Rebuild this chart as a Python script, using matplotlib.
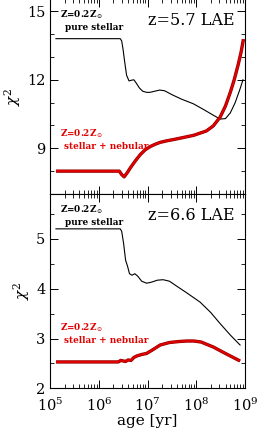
import matplotlib
matplotlib.use("Agg")
import matplotlib.pyplot as plt
import numpy as np
from matplotlib.ticker import LogLocator, MultipleLocator, NullFormatter

plt.rcParams["font.family"] = ["DejaVu Serif"]
plt.rcParams["mathtext.fontset"] = "dejavuserif"

# log10(age / yr) and chi^2
# z=5.7 LAE, pure stellar
logage_57_stellar = [5.12, 6.0, 6.44, 6.47, 6.50, 6.53, 6.57, 6.62, 6.67, 6.72, 6.77, 6.83,
                     6.90, 6.98, 7.05, 7.15, 7.25, 7.35, 7.50, 7.70, 7.94, 8.15, 8.35,
                     8.49, 8.60, 8.70, 8.80, 8.90, 8.96]
chi2_57_stellar = [13.8, 13.8, 13.8, 13.7, 13.3, 12.8, 12.2, 11.95, 11.98, 12.0, 11.85, 11.65,
                   11.5, 11.45, 11.45, 11.5, 11.55, 11.52, 11.35, 11.15, 10.95, 10.7, 10.45,
                   10.28, 10.3, 10.55, 11.0, 11.6, 12.0]
# z=5.7 LAE, stellar + nebular
logage_57_neb = [5.12, 6.0, 6.42, 6.47, 6.52, 6.58, 6.65, 6.75, 6.85, 6.95, 7.05, 7.15,
                 7.26, 7.40, 7.55, 7.73, 7.95, 8.21, 8.35, 8.49, 8.60, 8.70, 8.78,
                 8.86, 8.92, 8.97]
chi2_57_neb = [8.0, 8.0, 8.0, 7.85, 7.75, 7.92, 8.15, 8.45, 8.72, 8.93, 9.07, 9.17,
               9.26, 9.33, 9.39, 9.47, 9.57, 9.76, 9.98, 10.36, 10.85, 11.45, 12.0,
               12.65, 13.2, 13.78]
# z=6.6 LAE, pure stellar
logage_66_stellar = [5.12, 6.0, 6.44, 6.47, 6.51, 6.55, 6.59, 6.63, 6.68, 6.74, 6.80, 6.88,
                     6.98, 7.08, 7.20, 7.32, 7.45, 7.60, 7.80, 8.08, 8.30, 8.49, 8.70,
                     8.90]
chi2_66_stellar = [5.2, 5.2, 5.2, 5.15, 4.9, 4.57, 4.45, 4.3, 4.27, 4.3, 4.25, 4.15,
                   4.11, 4.13, 4.17, 4.18, 4.15, 4.05, 3.92, 3.73, 3.52, 3.3, 3.07,
                   2.87]
# z=6.6 LAE, stellar + nebular
logage_66_neb = [5.12, 6.0, 6.40, 6.45, 6.50, 6.55, 6.60, 6.66, 6.72, 6.78, 6.88, 6.98,
                 7.10, 7.26, 7.45, 7.65, 7.80, 7.95, 8.10, 8.35, 8.60, 8.90]
chi2_66_neb = [2.53, 2.53, 2.53, 2.56, 2.55, 2.54, 2.57, 2.56, 2.62, 2.65, 2.68, 2.70,
               2.77, 2.87, 2.92, 2.94, 2.95, 2.95, 2.93, 2.83, 2.70, 2.55]

panels = [
    ("z=5.7 LAE", logage_57_stellar, chi2_57_stellar, logage_57_neb, chi2_57_neb),
    ("z=6.6 LAE", logage_66_stellar, chi2_66_stellar, logage_66_neb, chi2_66_neb),
]

fig = plt.figure(figsize=(2.57, 4.32), dpi=100)
ax_top = fig.add_axes([0.195, 0.551, 0.758, 0.452])
ax_bot = fig.add_axes([0.195, 0.101, 0.758, 0.450])

red = "#e00000"
small = dict(fontsize=6.4, fontweight="bold")

for ax, (title, xs, ys, xn, yn) in zip([ax_top, ax_bot], panels):
    ax.plot(10 ** np.array(xs), ys, color="black", lw=0.8)
    ax.plot(10 ** np.array(xn), yn, color="#900000", lw=2.4, solid_capstyle="butt")
    ax.plot(10 ** np.array(xn), yn, color=red, lw=1.5, solid_capstyle="butt")
    ax.set_xscale("log")
    ax.set_xlim(1e5, 1e9)
    ax.xaxis.set_major_locator(LogLocator(base=10, numticks=10))
    ax.xaxis.set_minor_locator(LogLocator(base=10, subs=np.arange(2, 10), numticks=20))
    ax.xaxis.set_minor_formatter(NullFormatter())
    ax.tick_params(which="both", direction="in", top=True, right=True, labelsize=10.5)
    ax.tick_params(axis="x", pad=6)
    ax.tick_params(which="major", length=6, width=0.7)
    ax.tick_params(which="minor", length=3, width=0.6)
    ax.set_ylabel(r"$\chi^2$", fontsize=11, labelpad=3)
    ax.text(0.50, 0.865, title, transform=ax.transAxes, fontsize=11.5)
    ax.text(0.05, 0.905, r"Z=0.2Z$_\odot$", transform=ax.transAxes, **small)
    ax.text(0.075, 0.84, "pure stellar", transform=ax.transAxes, **small)
    for s in ax.spines.values():
        s.set_linewidth(0.8)

ax_top.set_ylim(7, 15.55)
ax_top.yaxis.set_major_locator(MultipleLocator(3))
ax_top.yaxis.set_minor_locator(MultipleLocator(1))
ax_top.tick_params(labelbottom=False)
ax_top.text(0.05, 0.295, r"Z=0.2Z$_\odot$", transform=ax_top.transAxes, color=red, **small)
ax_top.text(0.07, 0.23, "stellar + nebular", transform=ax_top.transAxes, color=red, **small)

ax_bot.set_ylim(2, 5.9)
ax_bot.yaxis.set_major_locator(MultipleLocator(1))
ax_bot.yaxis.set_minor_locator(MultipleLocator(0.5))
ax_bot.text(0.05, 0.30, r"Z=0.2Z$_\odot$", transform=ax_bot.transAxes, color=red, **small)
ax_bot.text(0.07, 0.235, "stellar + nebular", transform=ax_bot.transAxes, color=red, **small)
ax_bot.set_xlabel("age [yr]", fontsize=11, labelpad=0)

fig.savefig("out.png", dpi=100)
